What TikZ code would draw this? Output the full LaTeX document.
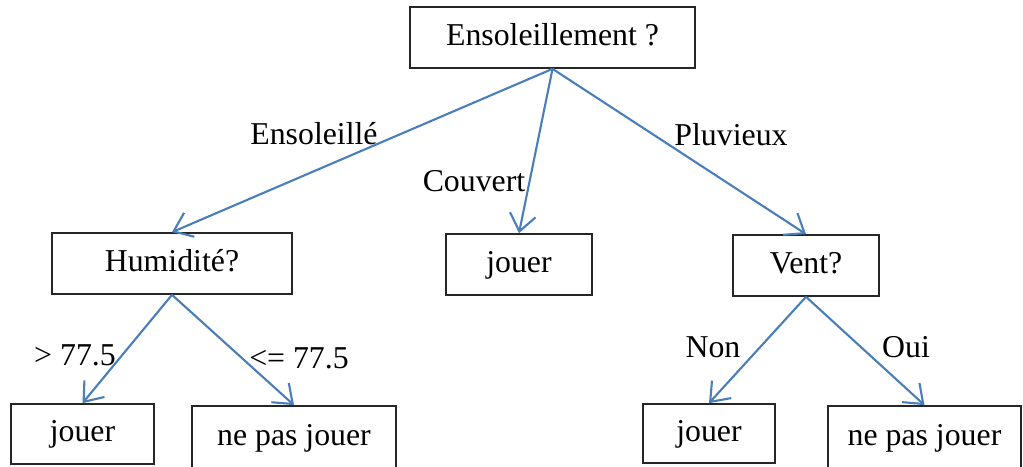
\documentclass[tikz,border=0pt]{standalone}
\usepackage{fontspec}
\setmainfont{Liberation Serif}
\usetikzlibrary{arrows.meta}
\definecolor{linkblue}{RGB}{74,126,187}
\begin{document}
\begin{tikzpicture}[x=1pt,y=-1pt,
  every node/.style={font=\fontsize{31.8}{38}\selectfont, inner sep=0pt},
  box/.style={draw=black!85, line width=1.7pt, fill=white, text height=23pt, text depth=8pt},
  link/.style={draw=linkblue, line width=2.1pt, -{Straight Barb[length=17pt,width=26pt,line width=2.1pt]}},
  lbl/.style={anchor=base}]
\useasboundingbox (0,0) rectangle (1023,466);
% nodes
\node[box, minimum width=285pt, minimum height=61pt] (root) at (552.5,37.5) {Ensoleillement ?};
\node[box, minimum width=240pt, minimum height=61pt] (hum) at (172,263.5) {Humidité?};
\node[box, minimum width=146pt, minimum height=61pt] (jm) at (519,264.5) {jouer};
\node[box, minimum width=146pt, minimum height=61pt] (vent) at (806,265.5) {Vent?};
\node[box, minimum width=143pt, minimum height=60pt] (j1) at (82.5,434) {jouer};
\node[box, minimum width=204pt, minimum height=66pt] (n1) at (294,439) {};
\node[anchor=base] (t1) at (294,445) {ne pas jouer};
\node[box, minimum width=132pt, minimum height=59pt] (j2) at (709,433.5) {jouer};
\node[box, minimum width=193pt, minimum height=66pt] (n2) at (924.5,439) {};
\node[anchor=base] (t2) at (924.5,445) {ne pas jouer};
% connectors
\draw[link] (root.south) -- (hum.north);
\draw[link] (root.south) -- (jm.north);
\draw[link] (root.south) -- (vent.north);
\draw[link] (hum.south) -- (j1.north);
\draw[link] (hum.south) -- (n1.north);
\draw[link] (vent.south) -- (j2.north);
\draw[link] (vent.south) -- (n2.north);
% labels
\node[lbl] (l1) at (314,144) {Ensoleillé};
\node[lbl] (l2) at (474,191) {Couvert};
\node[lbl] (l3) at (731,145) {Pluvieux};
\node[lbl] (l4) at (75,365) {> 77.5};
\node[lbl] (l5) at (299,368) {<= 77.5};
\node[lbl] (l6) at (713,357) {Non};
\node[lbl] (l7) at (906,357) {Oui};
\end{tikzpicture}
\end{document}
